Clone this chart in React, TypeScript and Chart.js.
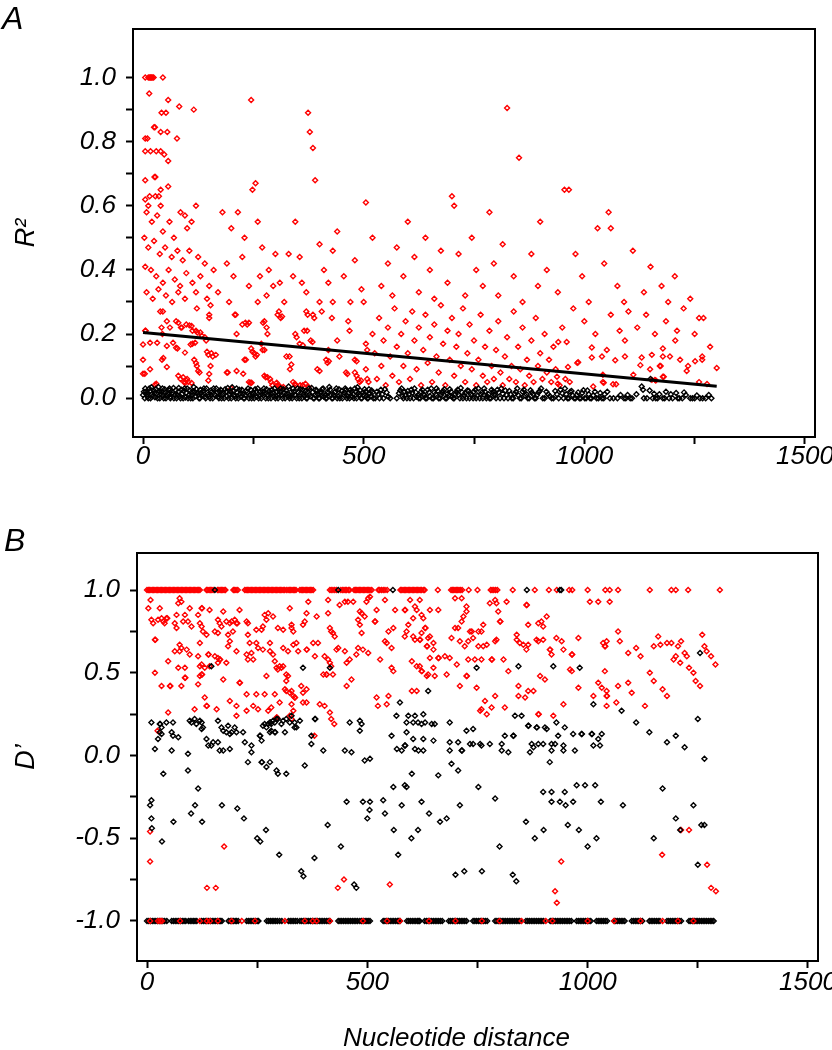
import React, { useEffect, useRef } from 'react';
import { Chart, registerables } from 'chart.js';

Chart.register(...registerables);

const FONT = "'Liberation Sans', Arial, Helvetica, sans-serif";

// ---------- shared axis ticks ----------
const xTicks = [0, 250, 500, 750, 1000, 1250, 1500];
const xTickLabels = ['0', '', '500', '', '1000', '', '1500'];
const aYTicks = [0, 0.1, 0.2, 0.3, 0.4, 0.5, 0.6, 0.7, 0.8, 0.9, 1.0];
const aYTickLabels = ['0.0', '', '0.2', '', '0.4', '', '0.6', '', '0.8', '', '1.0'];
const bYTicks = [-1, -0.75, -0.5, -0.25, 0, 0.25, 0.5, 0.75, 1];
const bYTickLabels = ['-1.0', '', '-0.5', '', '0.0', '', '0.5', '', '1.0'];

// ---------- Panel A : R^2 vs distance ----------
const aRegression: [number, number][] = [[0, 0.205], [1300, 0.037]];

const aBlack: [number, number][] = [
  [0,0.01],[4,0.0],[7,0.02],[10,0.005],[14,0.03],[17,0.0],[20,0.012],[24,0.025],[27,0.003],[31,0.015],[35,0.035],[38,0.0],
  [42,0.02],[45,0.008],[49,0.028],[52,0.0],[56,0.015],[60,0.03],[63,0.004],[67,0.018],[70,0.0],[74,0.025],[78,0.01],[81,0.032],
  [85,0.0],[89,0.014],[92,0.022],[96,0.002],[100,0.03],[104,0.01],[108,0.0],[111,0.02],[115,0.035],[119,0.006],[123,0.016],[127,0.0],
  [130,0.026],[134,0.01],[138,0.03],[142,0.0],[146,0.018],[150,0.006],[154,0.024],[158,0.0],[162,0.012],[166,0.03],[170,0.004],[174,0.02],
  [178,0.0],[182,0.015],[186,0.028],[190,0.006],[194,0.0],[198,0.02],[202,0.034],[206,0.01],[210,0.0],[214,0.018],[218,0.026],[222,0.004],
  [226,0.012],[230,0.0],[234,0.022],[238,0.03],[242,0.008],[246,0.0],[250,0.016],[254,0.028],[258,0.004],[262,0.0],[266,0.02],[270,0.012],
  [274,0.03],[278,0.0],[282,0.01],[286,0.022],[290,0.0],[294,0.015],[298,0.03],[302,0.005],[306,0.0],[310,0.02],[314,0.01],[318,0.028],
  [322,0.0],[326,0.014],[330,0.036],[334,0.004],[338,0.0],[342,0.02],[346,0.01],[350,0.03],[354,0.0],[358,0.016],[362,0.026],[366,0.006],
  [370,0.0],[374,0.02],[378,0.012],[382,0.032],[386,0.0],[390,0.01],[394,0.022],[398,0.0],[402,0.015],[406,0.028],[410,0.004],[414,0.0],
  [418,0.02],[422,0.035],[426,0.01],[430,0.0],[434,0.018],[438,0.03],[442,0.006],[446,0.0],[450,0.022],[454,0.012],[458,0.03],[462,0.0],
  [466,0.016],[470,0.026],[474,0.004],[478,0.0],[482,0.02],[486,0.034],[490,0.01],[494,0.0],[498,0.018],[502,0.028],[506,0.006],[510,0.0],
  [514,0.014],[518,0.024],[522,0.0],[530,0.02],[536,0.0],[542,0.012],[548,0.028],[556,0.004],[575,0.0],[580,0.015],[586,0.03],[590,0.0],
  [595,0.01],[600,0.022],[605,0.0],[610,0.016],[615,0.03],[620,0.004],[625,0.0],[630,0.02],[635,0.012],[640,0.0],[645,0.026],[650,0.006],
  [655,0.0],[660,0.018],[665,0.03],[670,0.0],[675,0.01],[680,0.022],[685,0.0],[690,0.014],[695,0.028],[700,0.004],[705,0.0],[710,0.02],
  [715,0.01],[720,0.032],[725,0.0],[730,0.016],[735,0.024],[740,0.0],[745,0.008],[750,0.02],[755,0.0],[760,0.03],[765,0.012],[770,0.0],
  [775,0.02],[780,0.006],[785,0.0],[790,0.026],[795,0.012],[800,0.0],[806,0.018],[812,0.03],[818,0.0],[824,0.01],[830,0.022],[836,0.0],
  [842,0.014],[848,0.03],[854,0.0],[860,0.02],[866,0.008],[872,0.0],[878,0.025],[884,0.012],[890,0.0],[896,0.018],[902,0.03],[910,0.0],
  [918,0.012],[926,0.0],[934,0.022],[942,0.0],[950,0.015],[956,0.03],[962,0.0],[968,0.02],[974,0.008],[980,0.0],[986,0.018],[992,0.0],
  [998,0.025],[1004,0.0],[1010,0.012],[1016,0.0],[1024,0.02],[1032,0.0],[1040,0.0],[1046,0.012],[1058,0.0],[1075,0.0],[1090,0.0],[1098,0.01],
  [1108,0.0],[1130,0.036],[1133,0.026],[1135,0.0],[1148,0.024],[1155,0.0],[1162,0.0],[1170,0.012],[1178,0.0],[1185,0.02],[1192,0.0],[1200,0.0],
  [1208,0.016],[1215,0.0],[1222,0.0],[1230,0.01],[1240,0.0],[1250,0.0],[1262,0.0],[1275,0.0],[1288,0.0]
];

const aBlackExtra: [number, number][] = [
  [2,0.02],[5,0.03],[9,0.012],[12,0.0],[16,0.022],[19,0.034],[22,0.006],[26,0.016],[29,0.028],[33,0.0],[37,0.02],[40,0.012],
  [44,0.03],[47,0.0],[51,0.018],[54,0.008],[58,0.026],[62,0.0],[65,0.014],[69,0.032],[72,0.01],[76,0.0],[80,0.02],[83,0.006],
  [87,0.026],[91,0.0],[94,0.03],[98,0.016],[102,0.0],[106,0.024],[110,0.008],[113,0.0],[117,0.02],[121,0.028],[125,0.01],[129,0.0],
  [132,0.016],[136,0.022],[140,0.004],[144,0.03],[148,0.012],[152,0.0],[156,0.02],[160,0.03],[164,0.008],[168,0.018],[172,0.0],
  [176,0.026],[180,0.01],[184,0.0],[188,0.02],[192,0.032],[196,0.012],[200,0.0],[204,0.022],[208,0.006],[212,0.03],[216,0.0],
  [220,0.014],[224,0.026],[228,0.0],[232,0.01],[236,0.018],[240,0.0],[244,0.026],[248,0.01],[252,0.0],[256,0.02],[260,0.03],
  [264,0.008],[268,0.0],[272,0.02],[276,0.012],[280,0.028],[284,0.0],[288,0.016],[292,0.026],[296,0.006],[300,0.0],[304,0.02],
  [308,0.012],[312,0.03],[316,0.0],[320,0.016],[324,0.024],[328,0.006],[332,0.0],[336,0.02],[340,0.03],[344,0.01],[348,0.0],
  [352,0.018],[356,0.028],[360,0.0],[364,0.012],[368,0.022],[372,0.0],[376,0.03],[380,0.006],[384,0.018],[388,0.0],[392,0.026],
  [396,0.012],[400,0.0],[404,0.02],[408,0.03],[412,0.008],[416,0.0],[420,0.016],[424,0.026],[428,0.0],[432,0.01],[436,0.02],
  [440,0.0],[444,0.028],[448,0.012],[452,0.0],[456,0.018],[460,0.026],[464,0.006],[468,0.0],[472,0.02],[476,0.012],[480,0.03],
  [484,0.0],[488,0.016],[492,0.024],[496,0.0],[500,0.01],[504,0.02],[508,0.0],[512,0.028],[516,0.006],[520,0.018],[526,0.0],
  [533,0.012],[539,0.026],[545,0.0],[552,0.018],[560,0.0],[583,0.024],[588,0.006],[593,0.02],[598,0.0],[603,0.012],[608,0.026],
  [613,0.0],[618,0.018],[623,0.008],[628,0.0],[633,0.026],[638,0.01],[643,0.0],[648,0.018],[653,0.03],[658,0.0],[663,0.012],
  [668,0.022],[673,0.0],[678,0.016],[683,0.028],[688,0.0],[693,0.008],[698,0.02],[703,0.0],[708,0.012],[713,0.026],[718,0.0],
  [723,0.018],[728,0.008],[733,0.0],[738,0.022],[743,0.012],[748,0.0],[753,0.026],[758,0.008],[763,0.0],[768,0.018],[773,0.03],
  [778,0.0],[783,0.012],[788,0.0],[793,0.02],[798,0.008],[803,0.026],[809,0.0],[815,0.014],[821,0.024],[827,0.0],[833,0.012],
  [839,0.0],[845,0.02],[851,0.008],[857,0.0],[863,0.026],[869,0.012],[875,0.0],[881,0.018],[887,0.0],[893,0.01],[899,0.022],
  [906,0.0],[914,0.02],[922,0.006],[930,0.0],[938,0.012],[946,0.026],[953,0.0],[959,0.012],[965,0.0],[971,0.022],[977,0.0],
  [983,0.01],[989,0.0],[995,0.016],[1001,0.0],[1007,0.024],[1013,0.0],[1020,0.008],[1028,0.0],[1036,0.016],[1044,0.0],[1052,0.02],
  [1066,0.0],[1082,0.01],[1094,0.0],[1104,0.0],[1118,0.012],[1142,0.0],[1150,0.06],[1158,0.014],[1166,0.0],[1182,0.0],[1196,0.012],
  [1212,0.0],[1226,0.018],[1245,0.0],[1255,0.008],[1268,0.0],[1282,0.01]
];

const aRed: [number, number][] = [
  [5,1.0],[12,1.0],[15,1.0],[17,1.0],[19,1.0],[21,1.0],[24,1.0],[45,1.0],
  [14,0.95],[57,0.93],[82,0.91],[115,0.9],[245,0.93],
  [42,0.89],[52,0.89],[25,0.845],[27,0.845],[40,0.83],[55,0.83],[77,0.81],
  [5,0.81],[10,0.81],[5,0.77],[17,0.77],[30,0.77],[40,0.77],[48,0.76],
  [57,0.74],[26,0.69],[28,0.69],[5,0.68],[57,0.66],[40,0.65],
  [5,0.62],[12,0.6],[15,0.63],[28,0.63],[36,0.63],[40,0.6],
  [8,0.58],[20,0.55],[32,0.57],[45,0.52],[60,0.55],[70,0.5],[85,0.58],[95,0.57],[100,0.53],[110,0.55],[120,0.6],
  [3,0.5],[12,0.47],[25,0.49],[38,0.45],[50,0.47],[65,0.44],[78,0.46],[90,0.43],[105,0.46],[125,0.44],[140,0.42],
  [5,0.41],[18,0.4],[30,0.38],[45,0.36],[58,0.4],[72,0.37],[84,0.35],[98,0.39],[112,0.36],[130,0.38],[150,0.35],[160,0.4],
  [8,0.33],[22,0.31],[35,0.34],[52,0.32],[66,0.3],[80,0.33],[95,0.31],[120,0.33],[145,0.31],[170,0.33],
  [180,0.58],[200,0.53],[215,0.58],[230,0.5],[248,0.65],[255,0.67],[260,0.55],[270,0.47],[285,0.4],[300,0.45],[310,0.36],
  [320,0.3],[340,0.38],[355,0.44],[370,0.33],[374,0.89],[378,0.83],[385,0.78],[390,0.68],[400,0.48],[410,0.4],[420,0.36],
  [430,0.46],[440,0.52],[190,0.42],[205,0.38],[225,0.44],[240,0.35],[265,0.38],[280,0.32],[295,0.35],[330,0.45],[345,0.55],
  [360,0.36],[195,0.3],[260,0.3],
  [455,0.38],[470,0.3],[480,0.43],[495,0.34],[505,0.61],[520,0.5],[540,0.35],[555,0.42],[565,0.32],[575,0.47],[590,0.38],
  [600,0.55],[615,0.44],[625,0.33],[640,0.5],[650,0.4],[660,0.31],[675,0.46],[690,0.36],[700,0.63],[705,0.6],[715,0.45],
  [730,0.32],[745,0.5],[755,0.4],[770,0.35],[785,0.58],[795,0.42],[805,0.32],[815,0.48],[825,0.905],[852,0.75],[840,0.38],
  [860,0.3],[880,0.45],[895,0.35],[900,0.55],[915,0.4],[940,0.33],[955,0.65],[965,0.65],[980,0.45],[995,0.38],[1010,0.3],
  [1030,0.53],[1045,0.42],[1055,0.58],[1060,0.53],[1075,0.35],[1090,0.3],[1110,0.46],[1135,0.33],[1150,0.41],[1175,0.35],
  [1190,0.3],[1205,0.38],[1240,0.31],[1260,0.25],
  [950,0.22],[975,0.28],[1000,0.24],[1025,0.2],[1060,0.26],[1080,0.21],[1100,0.27],[1120,0.22],[1140,0.26],[1160,0.2],
  [1185,0.24],[1210,0.21],[1225,0.28],[1250,0.2],[1270,0.25],[1285,0.16],
  [0,0.076],[4,0.076],[0,0.167],[16,0.173],[32,0.173],[5,0.21],[6,0.21],[0,0.12],[16,0.09],[27,0.042],[30,0.045],[39,0.27],
  [45,0.27],[42,0.22],[44,0.2],[54,0.163],[54,0.097],[43,0.12],[46,0.125],[54,0.24],[61,0.22],[75,0.24],[80,0.235],[86,0.22],
  [68,0.173],[78,0.155],[75,0.157],[80,0.07],[85,0.06],[91,0.065],[93,0.05],[95,0.047],[98,0.055],[100,0.06],[103,0.05],
  [110,0.047],[95,0.142],[88,0.22],[98,0.23],[105,0.227],[110,0.225],[112,0.21],[122,0.28],[108,0.167],[112,0.17],[118,0.173],
  [116,0.12],[120,0.11],[122,0.1],[125,0.085],[128,0.08],[120,0.21],[123,0.205],[130,0.205],[133,0.195],[140,0.19],[143,0.18],
  [145,0.145],[148,0.135],[150,0.26],[153,0.29],[150,0.25],[153,0.1],[150,0.075],[148,0.055],[155,0.14],[158,0.13],[165,0.135],
  [190,0.08],[192,0.08],[200,0.03],[208,0.26],[210,0.26],[212,0.2],[212,0.085],[225,0.23],[232,0.235],[236,0.23],[240,0.235],
  [227,0.076],[230,0.12],[233,0.12],[245,0.155],[248,0.145],[252,0.14],[255,0.13],[258,0.135],[240,0.05],[243,0.048],[246,0.048],
  [268,0.17],[271,0.15],[275,0.15],[275,0.07],[278,0.065],[282,0.065],[288,0.06],[275,0.24],[272,0.235],[280,0.22],[282,0.2],
  [290,0.05],[293,0.04],[303,0.048],[305,0.04],[310,0.037],[318,0.035],[305,0.26],[308,0.27],[312,0.25],[315,0.255],[325,0.13],
  [332,0.13],[333,0.09],[336,0.105],[340,0.05],[344,0.045],[346,0.04],[356,0.04],[362,0.04],[368,0.045],[375,0.035],[345,0.2],
  [348,0.19],[355,0.17],[362,0.165],[365,0.21],[372,0.21],[370,0.27],[373,0.26],[380,0.18],[384,0.175],[385,0.26],[388,0.25],
  [395,0.09],[400,0.085],[400,0.3],[405,0.27],[415,0.12],[418,0.11],[421,0.115],[420,0.15],[428,0.25],[430,0.3],[440,0.18],
  [445,0.13],[460,0.08],[463,0.075],[465,0.24],[468,0.21],[480,0.08],[484,0.07],[487,0.06],[491,0.05],[494,0.055],[480,0.12],
  [484,0.115],[500,0.3],[505,0.17],[508,0.15],[505,0.09],[508,0.06],[511,0.05],
  [520,0.2],[525,0.14],[530,0.06],[535,0.25],[540,0.1],[545,0.18],[550,0.04],[555,0.22],[560,0.13],[565,0.07],[570,0.28],
  [575,0.16],[580,0.05],[585,0.2],[590,0.1],[595,0.24],[600,0.14],[605,0.06],[610,0.27],[615,0.18],[620,0.09],[625,0.22],
  [630,0.04],[635,0.15],[640,0.26],[645,0.11],[650,0.19],[655,0.05],[660,0.23],[665,0.13],[670,0.08],[675,0.29],[680,0.17],
  [685,0.04],[690,0.21],[695,0.12],[700,0.25],[705,0.07],[710,0.16],[715,0.2],[720,0.1],[725,0.28],[730,0.05],[735,0.14],
  [740,0.23],[745,0.09],[750,0.18],[755,0.04],[760,0.12],[765,0.26],[770,0.07],[775,0.16],[780,0.05],[785,0.21],[790,0.1],
  [795,0.06],[800,0.15],[805,0.24],[810,0.08],[815,0.04],[820,0.13],[825,0.19],[830,0.06],[835,0.1],[840,0.27],[845,0.05],
  [850,0.16],[855,0.09],[860,0.22],[865,0.04],[870,0.12],[875,0.07],[880,0.18],[885,0.05],[890,0.25],[895,0.1],[900,0.14],
  [905,0.06],[910,0.2],[915,0.08],[920,0.12],[925,0.05],[930,0.16],[935,0.09],
  [941,0.175],[960,0.175],[986,0.112],[984,0.11],[963,0.097],[957,0.06],[967,0.05],[940,0.045],[944,0.04],[938,0.067],
  [1017,0.158],[1017,0.127],[1040,0.13],[1051,0.15],[1092,0.13],[1070,0.118],[1042,0.073],[1042,0.05],[1044,0.048],[1020,0.036],
  [1065,0.043],[1072,0.043],[1092,0.18],[1111,0.073],[1127,0.103],[1130,0.127],[1153,0.135],[1149,0.09],[1171,0.1],[1173,0.1],
  [1178,0.155],[1178,0.13],[1178,0.067],[1180,0.067],[1153,0.057],[1160,0.057],[1162,0.055],[1206,0.18],[1194,0.13],[1217,0.12],
  [1232,0.085],[1235,0.1],[1251,0.115],[1267,0.13],[1267,0.12],[1278,0.044],[1260,0.05],[1300,0.094]
];

// ---------- Panel B : D' vs distance ----------
const bRedAtOne: number[] = [
  0,6,12,18,24,30,36,42,48,54,60,66,72,78,84,90,96,102,108,114,120,135,141,147,160,166,172,178,196,202,206,222,228,234,240,
  246,252,258,264,270,276,282,288,294,300,306,312,316,320,326,332,338,347,353,359,365,371,377,415,422,430,440,447,453,460,
  470,476,482,488,494,500,506,510,525,532,540,545,575,581,587,593,599,605,611,617,623,630,660,690,696,702,708,715,730,750,
  780,787,795,830,880,912,930,958,965,1000,1040,1050,1069,1141,1190,1200,1228,1300
];
const bRedAtOneExtra: number[] = [
  3,9,15,21,27,33,39,45,51,57,63,69,75,81,87,93,99,105,111,117,138,144,150,163,169,175,199,225,231,237,243,249,255,261,267,
  273,279,285,291,297,303,309,323,329,335,350,356,362,368,374,418,426,444,450,457,473,479,485,491,497,503,528,536,578,584,
  590,596,602,608,614,620,627,693,699,705,711,783,791
];
const bBlackAtOne: number[] = [154, 434, 558, 862, 937, 940];

const bRedAtMinusOne: number[] = [
  7,25,30,34,75,120,136,143,161,192,215,245,313,358,376,385,415,490,545,574,640,700,760,800,850,905,920,1000,1060,1120,1170,1205,1240
];
const bBlackAtMinusOne: number[] = [
  0,8,16,24,32,40,45,56,64,72,80,88,94,98,106,113,124,132,140,148,156,164,170,185,193,200,207,226,234,242,250,253,272,280,288,
  296,306,321,329,337,347,355,363,371,379,387,395,403,411,415,434,442,450,458,466,474,483,491,499,506,536,544,552,560,568,574,
  590,598,606,614,619,630,638,646,654,662,670,685,693,701,709,717,725,740,748,756,764,772,790,798,806,814,822,830,838,846,860,
  868,876,884,892,900,915,923,931,939,947,955,963,975,983,991,999,1007,1020,1028,1036,1044,1060,1068,1076,1084,1100,1108,1116,
  1124,1140,1148,1156,1164,1180,1188,1196,1204,1212,1230,1238,1246,1254,1262,1270,1278,1286
];
const bBlackAtMinusOneExtra: number[] = [
  4,12,20,28,36,60,68,76,84,102,109,128,136,144,152,160,167,189,196,203,230,238,246,276,284,292,301,325,333,341,351,359,367,
  375,383,391,399,407,438,446,454,462,470,478,487,495,502,540,548,556,564,571,594,602,610,617,634,642,650,658,666,689,697,705,
  713,721,744,752,760,768,794,802,810,818,826,834,842,864,872,880,888,896,919,927,935,943,951,959,979,987,995,1003,1024,1032,
  1040,1064,1072,1080,1104,1112,1120,1144,1152,1160,1184,1192,1200,1208,1234,1242,1250,1258,1266,1274,1282
];

const bRed: [number, number][] = [
  [8,0.94],[3,0.89],[29,0.89],[10,0.82],[14,0.8],[25,0.82],[33,0.83],[37,0.81],[40,0.8],[44,0.83],[46,0.83],
  [74,0.95],[78,0.93],[71,0.92],[67,0.85],[63,0.8],[67,0.77],[82,0.81],[86,0.85],[97,0.89],[93,0.81],[101,0.78],[124,0.89],
  [125,0.89],[142,0.88],[116,0.85],[120,0.8],[124,0.78],[127,0.75],[135,0.73],[161,0.82],[165,0.8],[169,0.78],[173,0.87],
  [154,0.75],[161,0.74],[180,0.81],[188,0.8],[192,0.81],[203,0.8],[205,0.8],[226,0.81],[229,0.8],[210,0.88],[199,0.82],
  [195,0.75],[184,0.73],[188,0.69],[229,0.73],[233,0.68],[248,0.76],[260,0.76],[263,0.78],[271,0.82],[267,0.85],[275,0.86],
  [279,0.68],[286,0.84],[297,0.77],[309,0.76],[328,0.77],[332,0.75],[328,0.79],[324,0.89],[354,0.79],[358,0.81],[366,0.93],
  [362,0.86],[385,0.84],[388,0.68],[411,0.94],[411,0.86],[415,0.77],[418,0.75],[422,0.74],[426,0.72],[437,0.91],[449,0.93],
  [456,0.93],[468,0.93],[483,0.87],[479,0.82],[487,0.86],[494,0.84],[483,0.79],[487,0.74],[502,0.95],[498,0.93],[506,0.96],
  [517,0.81],[518,0.81],[521,0.88],
  [18,0.7],[19,0.7],[74,0.67],[78,0.65],[74,0.63],[63,0.63],[90,0.64],[120,0.68],[97,0.61],[139,0.61],[140,0.61],[154,0.6],
  [161,0.59],[165,0.58],[166,0.58],[116,0.6],[120,0.54],[124,0.55],[131,0.53],[142,0.54],[161,0.56],[180,0.56],[184,0.66],
  [203,0.63],[226,0.61],[229,0.58],[237,0.62],[241,0.58],[248,0.68],[252,0.65],[263,0.64],[279,0.63],[286,0.61],[290,0.57],
  [294,0.53],[297,0.52],[301,0.54],[305,0.53],[309,0.54],[309,0.65],[320,0.63],[332,0.67],[339,0.68],[343,0.63],[362,0.64],
  [363,0.64],[377,0.68],[381,0.6],[403,0.6],[411,0.58],[415,0.56],[418,0.54],[422,0.49],[400,0.49],[407,0.49],[408,0.49],
  [430,0.64],[434,0.65],[449,0.63],[453,0.56],[460,0.58],[475,0.61],[479,0.65],[490,0.64],[502,0.62],
  [18,0.5],[48,0.57],[71,0.53],[86,0.53],[86,0.47],[87,0.47],[124,0.49],[125,0.49],[120,0.48],[173,0.46],[210,0.44],[211,0.44],
  [271,0.48],[316,0.49],[320,0.48],[316,0.45],[313,0.4],[316,0.39],[324,0.38],[328,0.39],[332,0.36],[335,0.35],[336,0.35],
  [362,0.4],[350,0.42],[354,0.38],
  [33,0.42],[52,0.42],[53,0.42],[78,0.42],[116,0.43],[131,0.35],[135,0.3],[136,0.3],[48,0.26],[108,0.28],[158,0.28],[188,0.33],
  [203,0.3],[226,0.37],[248,0.37],[267,0.37],[290,0.37],[301,0.32],[203,0.24],[226,0.27],[241,0.3],[252,0.28],[275,0.27],
  [282,0.29],[294,0.23],[295,0.23],[328,0.31],[332,0.27],[324,0.24],[328,0.22],[362,0.32],[354,0.32],[392,0.31],[403,0.3],
  [415,0.26],[418,0.22],[521,0.35],[524,0.3],[453,0.42],[464,0.46],
  [540,0.94],[563,0.88],[585,0.88],[586,0.88],[597,0.94],[619,0.94],[608,0.9],[612,0.88],[604,0.83],[623,0.85],[627,0.83],
  [642,0.88],[661,0.88],[631,0.77],[632,0.77],[623,0.74],[619,0.7],[620,0.7],[593,0.79],[589,0.75],[548,0.75],[559,0.77],
  [544,0.68],[555,0.65],[540,0.69],[585,0.72],[604,0.72],[608,0.7],[638,0.71],[642,0.72],[650,0.68],[650,0.64],[635,0.66],
  [636,0.66],[661,0.59],[662,0.59],[676,0.6],[687,0.59],[642,0.59],[650,0.53],[623,0.51],[624,0.51],[619,0.54],[601,0.57],
  [612,0.54],[555,0.53],[559,0.51],[529,0.58],[638,0.49],[635,0.48],[653,0.48],[680,0.49],[703,0.55],[691,0.71],[699,0.77],
  [706,0.77],[710,0.69],[721,0.66],[729,0.69],[718,0.84],[714,0.81],[725,0.87],[725,0.9],[699,0.95],[714,0.95],[733,0.75],
  [737,0.75],[752,0.75],[759,0.75],[740,0.71],[752,0.66],[763,0.66],[771,0.67],[763,0.79],[778,0.92],[790,0.94],[793,0.92],
  [797,0.87],[816,0.93],[801,0.81],[802,0.81],[793,0.7],[790,0.69],[782,0.58],[783,0.58],[759,0.58],[744,0.58],[729,0.58],
  [725,0.48],[726,0.48],[809,0.58],[820,0.51],[839,0.7],[846,0.68],[854,0.67],[861,0.64],[865,0.67],[884,0.7],[888,0.69],
  [899,0.7],[899,0.78],[888,0.8],[895,0.81],[907,0.84],[861,0.91],[862,0.91],[865,0.79],[839,0.73],[914,0.64],[915,0.64],
  [918,0.61],[929,0.71],[941,0.69],[945,0.64],[964,0.61],[965,0.61],[979,0.71],[960,0.52],[964,0.51],[979,0.41],[1005,0.93],
  [1024,0.93],[1050,0.93],[1069,0.75],[1043,0.69],[1035,0.68],[1039,0.66],[1040,0.66],[1073,0.69],[1092,0.62],[1039,0.51],
  [1043,0.39],[1024,0.44],[1032,0.41],[1013,0.36],[1043,0.36],[1044,0.36],[1065,0.32],[1043,0.3],[1069,0.42],[1092,0.44],
  [892,0.48],[903,0.46],[843,0.42],[865,0.39],[877,0.39],[843,0.36],[858,0.35],[790,0.36],[767,0.33],[756,0.27],[759,0.28],
  [771,0.25],[782,0.29],[812,0.29],[710,0.42],[748,0.41],[601,0.39],[612,0.39],[548,0.36],[544,0.31],[888,0.25],[889,0.25],
  [922,0.24],[945,0.31],
  [1130,0.3],[1141,0.5],[1150,0.66],[1160,0.72],[1165,0.67],[1180,0.68],[1190,0.68],[1200,0.6],[1205,0.66],[1212,0.69],
  [1220,0.62],[1225,0.6],[1230,0.53],[1245,0.45],[1255,0.42],[1260,0.73],[1265,0.66],[1280,0.6],[1290,0.55],[1170,0.4],
  [1180,0.36],[1195,0.58],[1210,0.56],[1120,0.6],[1110,0.65],[1100,0.38],[1150,0.45],[1240,0.5],[1270,0.63],
  [7,-0.46],[7,-0.64],[136,-0.8],[156,-0.8],[175,-0.55],[433,-0.8],[447,-0.75],[551,-0.78],[926,-0.82],[930,-0.89],
  [940,-0.64],[1169,-0.6],[1212,-0.45],[1230,-0.45],[1271,-0.66],[1280,-0.8],[1291,-0.82],[24,0.15],[380,0.12],[425,0.19]
];

const bBlack: [number, number][] = [
  [10,0.2],[29,0.19],[30,0.19],[33,0.17],[29,0.14],[33,0.13],[44,0.2],[59,0.2],[56,0.14],[59,0.12],[71,0.11],[25,0.1],[18,0.04],
  [56,0.03],[93,0.01],[97,0.21],[101,0.2],[108,0.22],[112,0.19],[120,0.21],[124,0.2],[127,0.17],[124,0.16],[135,0.1],[139,0.06],
  [146,0.06],[150,0.08],[161,0.08],[165,0.03],[173,0.03],[188,0.04],[161,0.21],[169,0.17],[173,0.15],[180,0.14],[184,0.18],
  [188,0.13],[192,0.14],[199,0.17],[203,0.14],[218,0.14],[222,0.08],[237,0.06],[237,0.02],[229,-0.04],[256,0.12],[257,0.12],
  [260,0.09],[263,0.18],[267,0.19],[271,0.17],[275,0.19],[279,0.2],[280,0.2],[282,0.19],[286,0.21],[290,0.2],[294,0.22],
  [297,0.22],[305,0.19],[290,0.14],[291,0.14],[279,0.14],[282,0.15],[309,0.21],[316,0.22],[324,0.2],[328,0.24],[335,0.2],
  [339,0.17],[347,0.21],[313,0.14],[335,0.17],[373,0.12],[373,0.07],[381,0.22],[382,0.22],[400,0.03],[415,0.53],[354,0.53],
  [146,0.54],[460,0.2],[483,0.21],[487,0.19],[483,0.15],[449,0.03],[464,0.02],[494,-0.03],[506,-0.02],[260,-0.04],[261,-0.04],
  [271,-0.07],[279,-0.04],[294,-0.09],[297,-0.11],[316,-0.11],[358,-0.06],[93,-0.09],[37,-0.11],[116,-0.2],[10,-0.27],
  [453,-0.28],[490,-0.28],[506,-0.28],
  [748,0.53],[843,0.54],[922,0.54],[982,0.53],[638,0.39],[574,0.32],[1013,0.31],[1077,0.27],[566,0.24],[593,0.24],[608,0.24],
  [627,0.25],[604,0.2],[589,0.2],[615,0.2],[623,0.19],[631,0.2],[646,0.19],[653,0.19],[687,0.2],[835,0.24],[850,0.24],
  [865,0.18],[866,0.18],[884,0.17],[885,0.17],[903,0.17],[907,0.16],[929,0.2],[948,0.17],[933,0.12],[831,0.12],[832,0.12],
  [986,0.13],[987,0.13],[1009,0.13],[1010,0.13],[967,0.13],[1032,0.13],[1024,0.1],[555,0.12],[589,0.14],[604,0.1],[627,0.1],
  [650,0.09],[585,0.06],[586,0.06],[578,0.03],[567,0.04],[608,0.04],[616,0.03],[627,0.03],[687,0.08],[706,0.08],[687,0.03],
  [714,0.03],[715,0.03],[725,0.15],[740,0.16],[733,0.07],[740,0.07],[756,0.07],[759,0.06],[778,0.07],[805,0.07],[812,0.12],
  [820,0.02],[805,0.03],[873,0.07],[877,0.05],[888,0.07],[899,0.07],[869,0.02],[918,0.07],[918,0.03],[926,0.07],[945,0.06],
  [945,0.03],[971,0.03],[1013,0.06],[1028,0.06],[691,-0.05],[706,-0.09],[661,-0.12],[601,-0.11],[914,-0.04],[559,-0.19],
  [585,-0.18],[589,-0.19],[752,-0.19],[899,-0.22],[918,-0.22],[948,-0.22],[975,-0.18],[994,-0.18],[1017,-0.18],[790,-0.26],
  [710,-0.3],[623,-0.28],[578,-0.3],[536,-0.27],[918,-0.28],[937,-0.28],[967,-0.28],
  [1140,0.14],[1200,0.12],[1250,0.22],[1255,0.62],[1220,0.05],[1265,-0.02],[1170,-0.2],[1240,-0.3],[1110,0.2],[1180,0.08],
  [7,-0.3],[10,-0.38],[11,-0.44],[34,-0.52],[60,-0.4],[100,-0.35],[109,-0.3],[125,-0.4],[170,-0.3],[205,-0.32],[220,-0.38],
  [250,-0.5],[257,-0.52],[270,-0.45],[300,-0.6],[350,-0.7],[355,-0.73],[380,-0.62],[410,-0.42],[440,-0.55],[470,-0.78],
  [475,-0.8],[500,-0.38],[505,-0.33],[540,-0.35],[560,-0.45],[570,-0.6],[600,-0.5],[615,-0.45],[640,-0.35],[665,-0.4],
  [680,-0.38],[700,-0.72],[720,-0.7],[760,-0.7],[800,-0.55],[830,-0.72],[838,-0.76],[860,-0.4],[880,-0.5],[900,-0.45],
  [950,-0.3],[955,-0.42],[980,-0.45],[1000,-0.55],[1020,-0.5],[1030,-0.28],[1080,-0.3],[1150,-0.5],[1200,-0.38],
  [1210,-0.45],[1250,-0.66],[1258,-0.42],[1265,-0.42]
];

// ---------- helpers ----------
const toPts = (arr: [number, number][]) => arr.map(([x, y]) => ({ x, y }));
const lineAt = (xs: number[], y: number) => xs.map((x) => ({ x, y }));

const tickFont = { family: FONT, size: 26, style: 'italic' as const, lineHeight: 1 };
const titleFont = { family: FONT, size: 27, style: 'italic' as const };

const framePlugin = {
  id: 'frame',
  afterDatasetsDraw(chart: any) {
    const { ctx, chartArea } = chart;
    const { left, top, right, bottom } = chartArea;
    ctx.save();
    ctx.strokeStyle = '#000';
    ctx.lineWidth = 2;
    ctx.strokeRect(left, top, right - left, bottom - top);
    ctx.restore();
  },
};

function pointSet(data: any[], color: string, order: number) {
  return {
    data,
    pointStyle: 'rectRot',
    pointRadius: 2.5,
    pointBorderWidth: 1.4,
    pointBorderColor: color,
    pointBackgroundColor: 'rgba(0,0,0,0)',
    borderColor: color,
    backgroundColor: 'rgba(0,0,0,0)',
    showLine: false,
    order,
  };
}

function makeOptions(p: {
  yMin: number; yMax: number; yTicks: number[]; yLabels: string[]; yTitle: string;
  yWidth: number; xHeight: number; xPad: number; padTop: number; padRight: number;
}) {
  return {
    responsive: false,
    animation: false as const,
    events: [] as any[],
    layout: { padding: { left: 0, top: p.padTop, right: p.padRight, bottom: 0 } },
    plugins: { legend: { display: false }, tooltip: { enabled: false }, title: { display: false } },
    scales: {
      x: {
        type: 'linear' as const,
        min: -22.7,
        max: 1522.7,
        afterBuildTicks: (s: any) => { s.ticks = xTicks.map((v) => ({ value: v })); },
        afterFit: (s: any) => { s.height = p.xHeight; s.paddingLeft = 0; s.paddingRight = 0; },
        ticks: {
          autoSkip: false, maxRotation: 0, minRotation: 0, padding: p.xPad, color: '#000', font: tickFont,
          callback: (_v: any, i: number) => xTickLabels[i],
        },
        grid: { drawOnChartArea: false, drawTicks: true, tickLength: 7, tickWidth: 2, tickColor: '#000' },
        border: { display: false },
      },
      y: {
        type: 'linear' as const,
        min: p.yMin,
        max: p.yMax,
        afterBuildTicks: (s: any) => { s.ticks = p.yTicks.map((v) => ({ value: v })); },
        afterFit: (s: any) => { s.width = p.yWidth; s.paddingTop = 0; s.paddingBottom = 0; },
        ticks: {
          autoSkip: false, padding: 10, color: '#000', font: tickFont,
          callback: (_v: any, i: number) => p.yLabels[i],
        },
        grid: { drawOnChartArea: false, drawTicks: true, tickLength: 7, tickWidth: 2, tickColor: '#000' },
        border: { display: false },
        title: { display: true, text: p.yTitle, color: '#000', font: titleFont, padding: { top: 10, bottom: 0 } },
      },
    },
  };
}

export default function App() {
  const refA = useRef<HTMLCanvasElement | null>(null);
  const refB = useRef<HTMLCanvasElement | null>(null);

  useEffect(() => {
    Chart.defaults.font.family = FONT;
    const chartA = new Chart(refA.current as HTMLCanvasElement, {
      type: 'scatter',
      data: {
        datasets: [
          {
            data: toPts(aRegression),
            showLine: true,
            borderColor: '#000',
            borderWidth: 3,
            pointRadius: 0,
            fill: false,
            order: 0,
          } as any,
          pointSet([...toPts(aBlack), ...toPts(aBlackExtra)], '#000000', 1),
          pointSet(toPts(aRed), '#ff0000', 2),
        ],
      },
      options: makeOptions({
        yMin: -0.1212, yMax: 1.1515, yTicks: aYTicks, yLabels: aYTickLabels, yTitle: 'R²',
        yWidth: 133, xHeight: 63, xPad: 0, padTop: 29, padRight: 17,
      }) as any,
      plugins: [framePlugin],
    });

    const chartB = new Chart(refB.current as HTMLCanvasElement, {
      type: 'scatter',
      data: {
        datasets: [
          pointSet(lineAt(bBlackAtOne, 1), '#000000', 0),
          pointSet(lineAt(bRedAtMinusOne, -1), '#ff0000', 0),
          pointSet(
            [...toPts(bBlack), ...lineAt(bBlackAtMinusOne, -1), ...lineAt(bBlackAtMinusOneExtra, -1)],
            '#000000',
            1,
          ),
          pointSet([...toPts(bRed), ...lineAt(bRedAtOne, 1), ...lineAt(bRedAtOneExtra, 1)], '#ff0000', 2),
        ],
      },
      options: makeOptions({
        yMin: -1.242, yMax: 1.224, yTicks: bYTicks, yLabels: bYTickLabels, yTitle: 'D’',
        yWidth: 137, xHeight: 89, xPad: 2, padTop: 53, padRight: 14,
      }) as any,
      plugins: [framePlugin],
    });

    return () => {
      chartA.destroy();
      chartB.destroy();
    };
  }, []);

  const letter: React.CSSProperties = {
    position: 'absolute', fontFamily: FONT, fontStyle: 'italic', fontSize: 32, lineHeight: '32px', color: '#000', margin: 0,
  };

  return (
    <div style={{ position: 'absolute', left: 0, top: 0, width: 832, height: 1050, background: '#fff', overflow: 'hidden' }}>
      <canvas ref={refA} width={832} height={500} style={{ position: 'absolute', left: 0, top: 0, display: 'block' }} />
      <canvas ref={refB} width={832} height={550} style={{ position: 'absolute', left: 0, top: 500, display: 'block' }} />
      <div style={{ ...letter, left: 2, top: 2 }}>A</div>
      <div style={{ ...letter, left: 4, top: 524 }}>B</div>
      <div
        style={{
          position: 'absolute', left: 343, top: 1024, fontFamily: FONT, fontStyle: 'italic', fontSize: 26,
          lineHeight: '26px', color: '#000', whiteSpace: 'nowrap',
        }}
      >
        Nucleotide distance
      </div>
    </div>
  );
}
